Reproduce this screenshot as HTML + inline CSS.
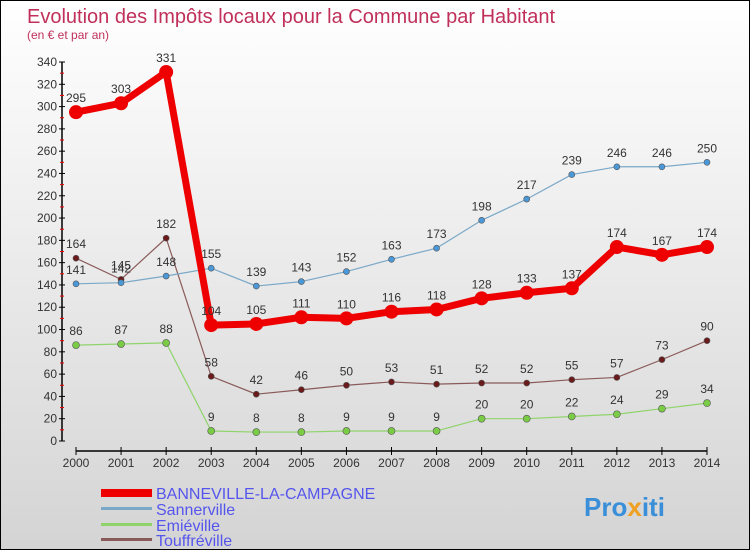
<!DOCTYPE html>
<html><head><meta charset="utf-8"><style>
body{margin:0}
#c{width:750px;height:550px;position:relative;box-sizing:border-box;border:1px solid #000;background:linear-gradient(#fff,#d4d4d4);font-family:"Liberation Sans",sans-serif;overflow:hidden}
</style></head><body>
<div id="c">
<svg id="s" width="748" height="548" xmlns="http://www.w3.org/2000/svg" style="position:absolute;left:0;top:0">
<text x="26" y="22" font-size="20" fill="#c0305a">Evolution des Impôts locaux pour la Commune par Habitant</text>
<text x="26" y="38" font-size="12" fill="#c0305a">(en € et par an)</text>
<g id="g"></g>
<g>
<rect x="100" y="488" width="51" height="8" fill="#e00"/>
<text x="155" y="498" font-size="16" fill="#5555ee">BANNEVILLE-LA-CAMPAGNE</text>
<rect x="100" y="506" width="51" height="3" fill="#7aa8c8"/>
<text x="155" y="514" font-size="16" fill="#5555ee">Sannerville</text>
<rect x="100" y="522" width="51" height="3" fill="#8fd46a"/>
<text x="155" y="530" font-size="16" fill="#5555ee">Emiéville</text>
<rect x="100" y="537" width="51" height="3" fill="#8a5a5a"/>
<text x="155" y="545" font-size="16" fill="#5555ee">Touffréville</text>
</g>
<text x="583" y="515" font-size="26" font-weight="bold"><tspan fill="#3a8fd8">Pro</tspan><tspan fill="#f0a020">x</tspan><tspan fill="#3a8fd8">iti</tspan></text>
</svg>
</div>
<script>
const years=[2000,2001,2002,2003,2004,2005,2006,2007,2008,2009,2010,2011,2012,2013,2014];
const banneville=[295,303,331,104,105,111,110,116,118,128,133,137,174,167,174];
const sannerville=[141,142,148,155,139,143,152,163,173,198,217,239,246,246,250];
const emieville=[86,87,88,9,8,8,9,9,9,20,20,22,24,29,34];
const touffreville=[164,145,182,58,42,46,50,53,51,52,52,55,57,73,90];
const yTicks=[0,20,40,60,80,100,120,140,160,180,200,220,240,260,280,300,320,340];
const NS='http://www.w3.org/2000/svg';
const g=document.getElementById('g');
const X=i=>75+i*(706-75)/(years.length-1);
const Y=v=>440-v*(379/340);
function mk(t,a,p){const e=document.createElementNS(NS,t);for(const k in a)e.setAttribute(k,a[k]);(p||g).appendChild(e);return e;}
let ax=mk('line',{x1:61,y1:Y(340),x2:61,y2:440,stroke:'#000','stroke-width':1.5});


yTicks.forEach((v,k)=>{
 mk('line',{x1:58,x2:64,y1:Y(v),y2:Y(v),stroke:'#000'});
 if(k<yTicks.length-1)mk('line',{x1:59,x2:63,y1:Y(v+10),y2:Y(v+10),stroke:'#e00'});
 const t=mk('text',{x:56,y:Y(v)+4,'font-size':12,'text-anchor':'end',fill:'#333'});t.textContent=v;
 
 
});
let xa=mk('line',{x1:75,y1:450,x2:706,y2:450,stroke:'#000','stroke-width':1.5});


years.forEach((y,i)=>{
 mk('line',{x1:X(i),x2:X(i),y1:446,y2:454,stroke:'#000'});
 const t=mk('text',{x:X(i),y:466,'font-size':12,'text-anchor':'middle',fill:'#333'});t.textContent=y;
 
 
});
function series(d,col,dot,w,r,name){
 const sg=mk('g',{});
 
 
 mk('polyline',{points:d.map((v,i)=>X(i)+','+Y(v)).join(' '),fill:'none',stroke:col,'stroke-width':w,'stroke-linejoin':'round'},sg);
 d.forEach((v,i)=>{
  const c=mk('circle',{cx:X(i),cy:Y(v),r:r,fill:dot,stroke:'#555','stroke-width':r>4?0:0.6},sg);
  
  
  const t=mk('text',{x:X(i),y:Y(v)-10,'font-size':12,'text-anchor':'middle',fill:'#333'},sg);t.textContent=v;
  
  
 });
}
series(touffreville,'#8a5a5a','#6a1a1a',1.2,3,'series-touffreville');
series(emieville,'#8fd46a','#7acc44',1.2,3.5,'series-emieville');
series(sannerville,'#7aa8c8','#4a98d8',1.2,3,'series-sannerville');
series(banneville,'#e00','#e00',7,7,'series-banneville');
</script>
</body></html>
